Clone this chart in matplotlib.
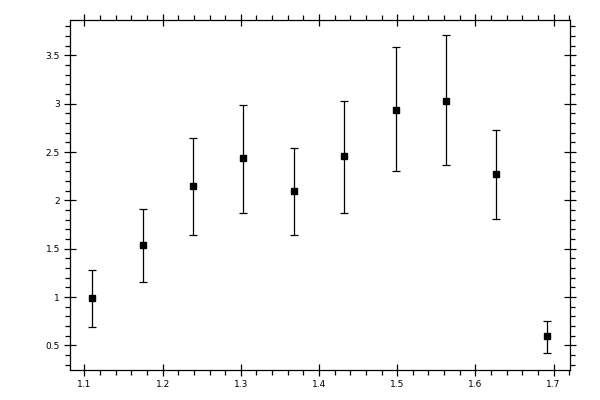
import matplotlib
matplotlib.use("Agg")
import matplotlib.pyplot as plt
from matplotlib.ticker import MultipleLocator, FuncFormatter

x = [1.110, 1.175, 1.239, 1.303, 1.368, 1.432, 1.498, 1.562, 1.626, 1.691]
y = [0.99, 1.54, 2.145, 2.438, 2.093, 2.459, 2.938, 3.031, 2.272, 0.593]
y_hi = [1.28, 1.914, 2.648, 2.99, 2.541, 3.031, 3.583, 3.71, 2.727, 0.748]
y_lo = [0.69, 1.159, 1.645, 1.873, 1.645, 1.873, 2.307, 2.369, 1.81, 0.424]

err_lo = [v - lo for v, lo in zip(y, y_lo)]
err_hi = [hi - v for v, hi in zip(y, y_hi)]

fig = plt.figure(figsize=(6, 4), dpi=100)
ax = fig.add_axes([0.116, 0.075, 0.834, 0.876])

ax.errorbar(x, y, yerr=[err_lo, err_hi], fmt="s", color="black",
            markersize=5, elinewidth=0.9, capsize=2.7, capthick=0.9)

ax.set_xlim(1.081, 1.721)
ax.set_ylim(0.245, 3.87)
ax.xaxis.set_major_locator(MultipleLocator(0.1))
ax.xaxis.set_minor_locator(MultipleLocator(0.02))
ax.yaxis.set_major_locator(MultipleLocator(0.5))
ax.yaxis.set_minor_locator(MultipleLocator(0.1))
fmt = FuncFormatter(lambda v, p: "%g" % round(v, 2))
ax.xaxis.set_major_formatter(fmt)
ax.yaxis.set_major_formatter(fmt)

ax.tick_params(which="major", direction="inout", length=8, width=0.9,
               top=True, right=True, labelsize=6.5, pad=3)
ax.tick_params(which="minor", direction="out", length=3.5, width=0.9,
               top=True, right=True)
for s in ax.spines.values():
    s.set_linewidth(0.9)

fig.savefig("out.png", dpi=100)
